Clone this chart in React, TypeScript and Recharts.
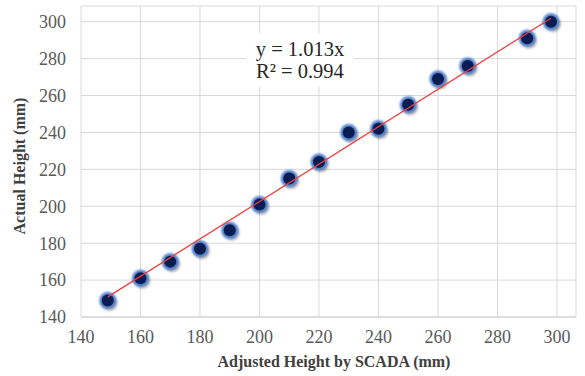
import React from 'react';
import { ScatterChart, Scatter, XAxis, YAxis, CartesianGrid } from 'recharts';

const scadaHeights = [149, 160, 170, 180, 190, 200, 210, 220, 230, 240, 250, 260, 270, 290, 298];
const actualHeights = [149, 161, 170, 177, 187, 201, 215, 224, 240, 242, 255, 269, 276, 291, 300];
const trendX = [149, 298];
const trendY = [150.9, 301.9];
const xTicks = [140, 160, 180, 200, 220, 240, 260, 280, 300];
const yTicks = [140, 160, 180, 200, 220, 240, 260, 280, 300];

const points = scadaHeights.map((x, i) => ({ x, y: actualHeights[i] }));
const trend = trendX.map((x, i) => ({ x, y: trendY[i] }));

const FONT = '"Liberation Serif", "Times New Roman", serif';

const Dot = (props: any) => {
  const { cx, cy } = props;
  if (cx == null || cy == null) return null;
  return (
    <g>
      <defs>
        <filter id="blurS" x="-100%" y="-100%" width="300%" height="300%">
          <feGaussianBlur stdDeviation="1.8" />
        </filter>
        <filter id="blurG" x="-100%" y="-100%" width="300%" height="300%">
          <feGaussianBlur stdDeviation="1.2" />
        </filter>
      </defs>
      <circle cx={cx + 2} cy={cy + 2.5} r={7.5} fill="#000" opacity={0.35} filter="url(#blurS)" />
      <circle cx={cx} cy={cy} r={8.5} fill="#4d7fcc" filter="url(#blurG)" />
      <circle cx={cx} cy={cy} r={6} fill="#0a1d52" />
    </g>
  );
};

const NoShape = () => null;

export default function App() {
  return (
    <div style={{ position: 'absolute', left: 0, top: 0, width: 585, height: 376, background: '#fff' }}>
      <ScatterChart width={585} height={376} margin={{ top: 6, right: 9, bottom: 29, left: 0 }}>
        <CartesianGrid stroke="#d9d9d9" strokeWidth={1} />
        <XAxis
          type="number"
          dataKey="x"
          domain={[140, 306.4]}
          ticks={xTicks}
          allowDataOverflow
          height={30}
          tickSize={0}
          tickMargin={13}
          stroke="#d9d9d9"
          strokeWidth={1.5}
          tick={{ fill: '#595959', fontSize: 18, fontFamily: FONT }}
        />
        <YAxis
          type="number"
          dataKey="y"
          domain={[140, 308.5]}
          ticks={yTicks}
          allowDataOverflow
          width={81}
          tickSize={0}
          tickMargin={15}
          axisLine={false}
          tick={{ fill: '#595959', fontSize: 18, fontFamily: FONT }}
        />
        <Scatter data={points} shape={<Dot />} isAnimationActive={false} />
        <Scatter
          data={trend}
          line={{ stroke: '#f03c3c', strokeWidth: 1.3 }}
          shape={<NoShape />}
          isAnimationActive={false}
        />
      </ScatterChart>
      <div
        style={{
          position: 'absolute',
          left: 246,
          top: 33,
          width: 108,
          height: 54,
          background: '#fff',
          fontFamily: FONT,
          fontSize: 20.5,
          color: '#262626',
          lineHeight: '22px',
          textAlign: 'center',
          paddingTop: 5,
          boxSizing: 'border-box',
        }}
      >
        <div>y = 1.013x</div>
        <div>R² = 0.994</div>
      </div>
      <div
        style={{
          position: 'absolute',
          left: 134,
          top: 353,
          width: 400,
          textAlign: 'center',
          fontFamily: FONT,
          fontWeight: 'bold',
          fontSize: 16,
          color: '#404040',
          whiteSpace: 'nowrap',
        }}
      >
        Adjusted Height by SCADA (mm)
      </div>
      <div
        style={{
          position: 'absolute',
          left: 20,
          top: 166,
          width: 200,
          marginLeft: -100,
          marginTop: -10,
          height: 20,
          lineHeight: '20px',
          textAlign: 'center',
          transform: 'rotate(-90deg)',
          fontFamily: FONT,
          fontWeight: 'bold',
          fontSize: 16,
          color: '#404040',
          whiteSpace: 'nowrap',
        }}
      >
        Actual Height (mm)
      </div>
    </div>
  );
}
